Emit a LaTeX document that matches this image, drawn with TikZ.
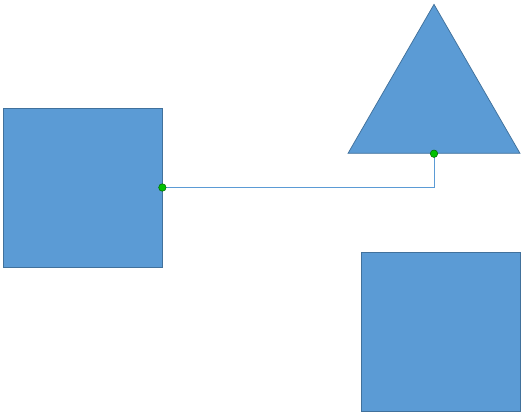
\documentclass[tikz,border=0pt]{standalone}
\usetikzlibrary{shapes.geometric}
\definecolor{shapeblue}{HTML}{5B9BD5}
\definecolor{shapeedge}{HTML}{41719C}
\definecolor{pingreen}{HTML}{00C000}

\tikzset{
  blockbox/.style={draw=shapeedge, fill=shapeblue, line width=0.75pt, minimum size=159pt, inner sep=0pt},
  tribox/.style={regular polygon, regular polygon sides=3, draw=shapeedge, fill=shapeblue, line width=0.75pt, minimum size=198.6pt, inner sep=0pt},
  pin/.style={circle, draw=green!40!black, fill=pingreen, line width=0.5pt, minimum size=7.5pt, inner sep=0pt},
}

\begin{document}
\begin{tikzpicture}[x=1pt,y=-1pt]

\useasboundingbox (0,0) rectangle (524,414);

\node[blockbox] (left) at (82.5,187.5) {};
\node[blockbox] (right) at (440.5,331.5) {};
\node[tribox] (tri) at (434,103.7) {};

\draw[shapeblue, line width=0.75pt] (left.east) -| (tri.side 2);

\node[pin] (pa) at (left.east) {};
\node[pin] (pb) at (tri.side 2) {};

\end{tikzpicture}
\end{document}
